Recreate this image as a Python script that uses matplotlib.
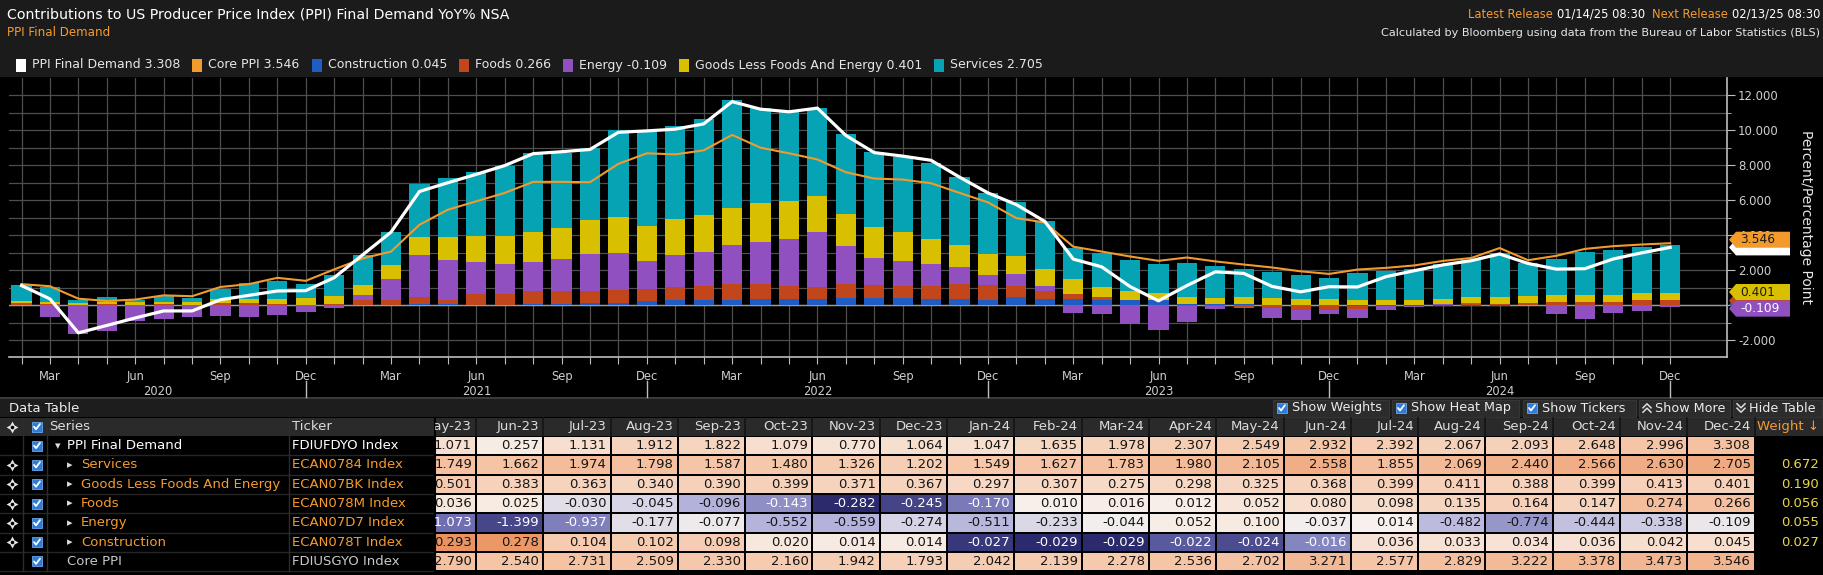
import numpy as np
import matplotlib
matplotlib.use('Agg')
import matplotlib.pyplot as plt
from matplotlib.patches import Rectangle, Polygon
from matplotlib.colors import LinearSegmentedColormap
from matplotlib import transforms
from matplotlib.ticker import FuncFormatter, FixedLocator

plt.rcParams['font.family'] = ['DejaVu Sans']

# ---------------- data ----------------
month_names = ['Jan', 'Feb', 'Mar', 'Apr', 'May', 'Jun', 'Jul', 'Aug', 'Sep', 'Oct', 'Nov', 'Dec']
periods = [(y, m) for y in range(2020, 2025) for m in range(1, 13) if not (y == 2020 and m == 1)]

ppi = [1.13, 0.37, -1.57, -1.15, -0.72, -0.32, -0.32, 0.32, 0.57, 0.82, 0.84,
       1.58, 2.88, 4.18, 6.50, 7.00, 7.48, 7.98, 8.66, 8.77, 8.90, 9.88, 9.96,
       10.06, 10.36, 11.63, 11.20, 11.05, 11.26, 9.70, 8.72, 8.52, 8.28, 7.32, 6.42,
       5.75, 4.79, 2.64, 2.20, 1.071, 0.257, 1.131, 1.912, 1.822, 1.079, 0.770, 1.064,
       1.047, 1.635, 1.978, 2.307, 2.549, 2.932, 2.392, 2.067, 2.093, 2.648, 2.996, 3.308]

core = [1.21, 1.09, 0.38, 0.25, 0.33, 0.57, 0.52, 1.05, 1.21, 1.57, 1.40,
        2.05, 2.68, 3.07, 4.60, 5.46, 5.94, 6.42, 7.05, 7.05, 7.03, 8.08, 8.68,
        8.62, 8.85, 9.73, 9.00, 8.68, 8.33, 7.60, 7.24, 7.18, 6.97, 6.42, 5.88,
        4.98, 4.73, 3.35, 3.07, 2.790, 2.540, 2.731, 2.509, 2.330, 2.160, 1.942, 1.793,
        2.042, 2.139, 2.278, 2.536, 2.702, 3.271, 2.577, 2.829, 3.222, 3.378, 3.473, 3.546]

construction = [0.02, 0.02, 0.02, 0.02, 0.02, 0.02, 0.02, 0.02, 0.02, 0.02, 0.02,
                0.03, 0.02, 0.02, 0.05, 0.05, 0.04, 0.04, 0.05, 0.05, 0.15, 0.15, 0.23,
                0.29, 0.29, 0.29, 0.34, 0.34, 0.34, 0.42, 0.42, 0.42, 0.38, 0.38, 0.33,
                0.48, 0.38, 0.38, 0.29, 0.293, 0.278, 0.104, 0.102, 0.098, 0.020, 0.014, 0.014,
                -0.027, -0.029, -0.029, -0.022, -0.024, -0.016, 0.036, 0.033, 0.034, 0.036, 0.042, 0.045]

foods = [0.09, 0.03, 0.02, 0.05, 0.02, 0.03, 0.02, 0.12, 0.10, 0.06, 0.02,
         0.03, 0.27, 0.27, 0.40, 0.23, 0.59, 0.59, 0.75, 0.75, 0.65, 0.71, 0.69,
         0.77, 0.80, 0.90, 0.90, 0.75, 0.71, 0.82, 0.73, 0.69, 0.73, 0.82, 0.82,
         0.61, 0.42, 0.29, 0.17, 0.036, 0.025, -0.030, -0.045, -0.096, -0.143, -0.282, -0.245,
         -0.170, 0.010, 0.016, 0.012, 0.052, 0.080, 0.098, 0.135, 0.164, 0.147, 0.274, 0.266]

energy = [0.0, -0.67, -1.63, -1.49, -0.90, -0.77, -0.67, -0.61, -0.67, -0.57, -0.38,
          -0.15, 0.29, 1.19, 2.41, 2.30, 1.86, 1.72, 1.69, 1.84, 2.13, 2.13, 1.61,
          1.82, 1.93, 2.26, 2.38, 2.70, 3.14, 2.15, 1.55, 1.44, 1.25, 0.98, 0.57,
          0.69, 0.31, -0.46, -0.52, -1.073, -1.399, -0.937, -0.177, -0.077, -0.552, -0.559, -0.274,
          -0.511, -0.233, -0.044, 0.052, 0.100, -0.037, 0.014, -0.482, -0.774, -0.444, -0.338, -0.109]

goods = [0.13, 0.12, 0.12, 0.12, 0.13, 0.12, 0.15, 0.22, 0.25, 0.30, 0.40,
         0.50, 0.57, 0.82, 1.02, 1.30, 1.48, 1.61, 1.70, 1.76, 1.95, 2.07, 2.01,
         2.07, 2.15, 2.11, 2.24, 2.15, 2.03, 1.84, 1.78, 1.61, 1.44, 1.26, 1.21,
         1.03, 0.98, 0.82, 0.59, 0.501, 0.383, 0.363, 0.340, 0.390, 0.399, 0.371, 0.367,
         0.297, 0.307, 0.275, 0.298, 0.325, 0.368, 0.399, 0.411, 0.388, 0.399, 0.413, 0.401]

services = [0.92, 0.86, 0.13, 0.29, 0.15, 0.34, 0.22, 0.56, 0.88, 1.00, 0.78,
            1.16, 1.72, 1.90, 3.07, 3.39, 3.66, 3.98, 4.52, 4.31, 4.08, 4.94, 5.36,
            5.27, 5.46, 6.17, 5.38, 5.17, 5.04, 4.54, 4.27, 4.31, 4.35, 3.91, 3.49,
            3.07, 2.74, 1.80, 1.92, 1.749, 1.662, 1.974, 1.798, 1.587, 1.480, 1.326, 1.202,
            1.549, 1.627, 1.783, 1.980, 2.105, 2.558, 1.855, 2.069, 2.440, 2.566, 2.630, 2.705]

weights = {'Services': 0.672, 'Goods Less Foods And Energy': 0.190, 'Foods': 0.056,
           'Energy': 0.055, 'Construction': 0.027}
tickers = {'PPI Final Demand': 'FDIUFDYO Index', 'Services': 'ECAN0784 Index',
           'Goods Less Foods And Energy': 'ECAN07BK Index', 'Foods': 'ECAN078M Index',
           'Energy': 'ECAN07D7 Index', 'Construction': 'ECAN078T Index', 'Core PPI': 'FDIUSGYO Index'}
n_table_cols = 20

# ---------------- style ----------------
C_PPI, C_CORE = '#ffffff', '#f39a2c'
C_CONS, C_FOOD, C_ENER, C_GOOD, C_SERV = '#1f5cc4', '#c2461c', '#9150c0', '#d8c000', '#06a3b4'
ORANGE_TXT = '#f59b2f'
GRID = '#4e4e4e'
TICKC = '#cfcfcf'

W, H = 1824, 575
fig = plt.figure(figsize=(W / 100, H / 100), dpi=100)
fig.patch.set_facecolor('#000000')


def ov_axes(z):
    a = fig.add_axes([0, 0, 1, 1], zorder=z)
    a.set_xlim(0, W)
    a.set_ylim(H, 0)
    a.set_axis_off()
    a.patch.set_visible(False)
    return a


ov = ov_axes(0)
PL, PT, PR, PB = 9, 78, 1727, 357
ax = fig.add_axes([PL / W, 1 - PB / H, (PR - PL) / W, (PB - PT) / H], zorder=1)
ov2 = ov_axes(5)
renderer = fig.canvas.get_renderer()


def wpx(t):
    return t.get_window_extent(renderer=renderer).width


# ---------------- header ----------------
ov.add_patch(Rectangle((0, 0), W, 77, facecolor='#1b1b1b', edgecolor='none'))
ov.text(7, 14, 'Contributions to US Producer Price Index (PPI) Final Demand YoY% NSA',
        color='#ffffff', fontsize=10.2, va='center', ha='left')
ov.text(7, 33, 'PPI Final Demand', color=ORANGE_TXT, fontsize=8.6, va='center', ha='left')
xr = 1820
for txt, col in [('02/13/25 08:30', '#ffffff'), ('Next Release ', ORANGE_TXT),
                 ('01/14/25 08:30  ', '#ffffff'), ('Latest Release ', ORANGE_TXT)]:
    t = ov.text(xr, 14, txt, color=col, fontsize=8.3, va='center', ha='right')
    xr -= wpx(t)
ov.text(1820, 33, 'Calculated by Bloomberg using data from the Bureau of Labor Statistics (BLS)',
        color='#e6e6e6', fontsize=8.1, va='center', ha='right')

legend_items = [('PPI Final Demand', C_PPI, ppi[-1]), ('Core PPI', C_CORE, core[-1]),
                ('Construction', C_CONS, construction[-1]), ('Foods', C_FOOD, foods[-1]),
                ('Energy', C_ENER, energy[-1]), ('Goods Less Foods And Energy', C_GOOD, goods[-1]),
                ('Services', C_SERV, services[-1])]
lx, ly = 16, 65
for name, col, val in legend_items:
    ov.add_patch(Rectangle((lx, ly - 6.5), 10, 13, facecolor=col, edgecolor='none'))
    t = ov.text(lx + 16, ly, f'{name} {val:.3f}', color='#e6e6e6', fontsize=9.0, va='center', ha='left')
    lx = lx + 16 + wpx(t) + 12

# ---------------- chart ----------------
n = len(periods)
xs = np.arange(n)
ax.set_facecolor('#000000')
pos = np.zeros(n)
neg = np.zeros(n)
for vals, col in [(construction, C_CONS), (foods, C_FOOD), (energy, C_ENER),
                  (goods, C_GOOD), (services, C_SERV)]:
    v = np.asarray(vals, float)
    base = np.where(v >= 0, pos, neg)
    ax.bar(xs, v, width=0.71, bottom=base, color=col, linewidth=0, zorder=3)
    pos = pos + np.clip(v, 0, None)
    neg = neg + np.clip(v, None, 0)
ax.axhline(0, color='#9a9a9a', lw=1.0, zorder=2)
ax.plot(xs, core, color=C_CORE, lw=1.5, zorder=5, solid_joinstyle='round')
ax.plot(xs, ppi, color=C_PPI, lw=2.3, zorder=6, solid_joinstyle='round')

ax.set_xlim(-0.44, 60.0)
ax.set_ylim(-2.95, 12.98)
ax.xaxis.set_major_locator(FixedLocator(xs))
ax.set_xticklabels([month_names[m - 1] if m in (3, 6, 9, 12) else '' for (y, m) in periods])
ax.yaxis.tick_right()
ax.set_yticks(np.arange(-2, 13, 2))
ax.set_yticks(np.arange(-1, 13, 2), minor=True)
# the 0.000 label sits behind the value tags in the original, so it is left blank
ax.yaxis.set_major_formatter(FuncFormatter(lambda v, p: '' if abs(v) < 1e-9 else f'{v:.3f}'))
ax.grid(True, which='both', axis='y', color=GRID, lw=0.9)
ax.grid(True, which='major', axis='x', color=GRID, lw=0.9)
ax.set_axisbelow(True)
for s in ('left', 'top'):
    ax.spines[s].set_visible(False)
for s in ('right', 'bottom'):
    ax.spines[s].set_color('#bdbdbd')
    ax.spines[s].set_linewidth(1.2)
ax.tick_params(axis='x', which='major', length=5, color='#bdbdbd', labelcolor=TICKC,
               labelsize=8.3, pad=4.5, direction='out')
ax.tick_params(axis='y', which='major', length=6, color='#bdbdbd', labelcolor=TICKC,
               labelsize=8.4, pad=2, direction='out')
ax.tick_params(axis='y', which='minor', length=3, color='#bdbdbd', direction='out')

bt = transforms.blended_transform_factory(ax.transData, ax.transAxes)
dec_idx = [i for i, (y, m) in enumerate(periods) if m == 12]
edges = [ax.get_xlim()[0]] + dec_idx
for k, d in enumerate(dec_idx):
    ax.plot([d, d], [-0.086, -0.143], transform=bt, color='#bdbdbd', lw=1, clip_on=False)
    ax.text((edges[k] + d) / 2, -0.122, str(periods[d][0]), transform=bt, ha='center',
            va='center', color=TICKC, fontsize=8.3)

ov2.text(1806, 217, 'Percent/Percentage Point', rotation=270, ha='center', va='center',
         color='#e6e6e6', fontsize=10)


def ypx(v):
    return H - ax.transData.transform((0, v))[1]


# value tags (drawn bottom to top); the covered ones carry no legible text in the original
tags = [(construction[-1], C_CONS, None, 0), (foods[-1], C_FOOD, None, 0),
        (ppi[-1], C_PPI, None, 0), (goods[-1], C_GOOD, '#1a1a1a', -6.3),
        (energy[-1], C_ENER, '#ffffff', 1.4), (core[-1], C_CORE, '#1a1a1a', -3.5)]
x0, x1, hh, tip = 1729, 1790, 8, 7
for val, fc, tc, nud in tags:
    yc = ypx(val) + nud
    ov2.add_patch(Polygon([(x0, yc), (x0 + tip, yc - hh), (x1, yc - hh), (x1, yc + hh),
                           (x0 + tip, yc + hh)], closed=True, facecolor=fc, edgecolor='none'))
    if tc is not None:
        ov2.text(x0 + 11, yc, f'{val:.3f}', color=tc, fontsize=8.8, va='center', ha='left')

# ---------------- data table ----------------
ov.add_patch(Rectangle((0, 396.8), W, 1.8, facecolor='#3a3a3a', edgecolor='none'))
ov.add_patch(Rectangle((0, 398.6), W, 18.6, facecolor='#1d1d1d', edgecolor='none'))
ov.text(9, 408, 'Data Table', color='#ececec', fontsize=9.5, va='center')
HDR_T, HDR_B = 417.5, 436
ov.add_patch(Rectangle((0, HDR_T), W, HDR_B - HDR_T, facecolor='#2a2a2a', edgecolor='none'))


def checkbox(cx, cy, s=10):
    ov.add_patch(Rectangle((cx - s / 2, cy - s / 2), s, s, facecolor='#2f7bd8', edgecolor='#6aa8ee', lw=0.6))
    ov.plot([cx - 3, cx - 1, cx + 3], [cy, cy + 2.5, cy - 2.8], color='white', lw=1.3,
            solid_capstyle='round')


def crosshair(cx, cy):
    ov.plot([cx], [cy], marker=(4, 1, 0), markersize=8.5, color='#e8e8e8', markeredgewidth=0)
    ov.plot([cx], [cy], marker='o', markersize=2.6, color='#000000', markeredgewidth=0)


# buttons in Data Table band
btns = [(1273, 1389, 'Show Weights', 'check'), (1392, 1519, 'Show Heat Map', 'check'),
        (1523, 1636, 'Show Tickers', 'check'), (1639, 1730, 'Show More', 'up'),
        (1733, 1822, 'Hide Table', 'down')]
by = 408
for bl, br, label, kind in btns:
    ov.add_patch(Rectangle((bl, 399.5), br - bl, 17, facecolor='#2c2c2c', edgecolor='#3a3a3a', lw=0.6))
    if kind == 'check':
        checkbox(bl + 9, by, 10)
        ov.text(bl + 19, by, label, color='#ececec', fontsize=9.2, va='center', ha='left')
    else:
        cx = bl + 8
        for dy in (-2.2, 2.2):
            if kind == 'up':
                ov.plot([cx - 4, cx, cx + 4], [by + dy + 2, by + dy - 2, by + dy + 2], color='#dcdcdc', lw=1.1)
            else:
                ov.plot([cx - 4, cx, cx + 4], [by + dy - 2, by + dy + 2, by + dy - 2], color='#dcdcdc', lw=1.1)
        ov.text(bl + 16, by, label, color='#ececec', fontsize=9.2, va='center', ha='left')

col0, col_w, data_left = 408.7, 67.3, 435
weight_left = col0 + n_table_cols * col_w
row_h = 19.3
row_t0 = 436
hc = (HDR_T + HDR_B) / 2
crosshair(12, hc)
checkbox(37, hc)
ov.text(49, hc, 'Series', color='#dcdcdc', fontsize=9.5, va='center')
ov.text(292, hc, 'Ticker', color='#dcdcdc', fontsize=9.5, va='center')
clip_rect = Rectangle((data_left, 0), W, H, transform=ov.transData)
tab_periods = periods[-n_table_cols:]
for j, (y, m) in enumerate(tab_periods):
    l = col0 + j * col_w
    t = ov.text(l + col_w - 4, hc, f'{month_names[m - 1]}-{str(y)[2:]}', color='#dcdcdc',
                fontsize=9.5, va='center', ha='right', clip_on=True)
    t.set_clip_path(clip_rect)
    if l + col_w < weight_left + 1:
        ov.plot([l + col_w, l + col_w], [HDR_T, HDR_B], color='#141414', lw=1.2)
ov.text(1819, hc, 'Weight \u2193', color=ORANGE_TXT, fontsize=9.5, va='center', ha='right')

rows = [('PPI Final Demand', ppi, 'parent', '#ffffff', '#ffffff'),
        ('Services', services, 'child', ORANGE_TXT, ORANGE_TXT),
        ('Goods Less Foods And Energy', goods, 'child', ORANGE_TXT, ORANGE_TXT),
        ('Foods', foods, 'child', ORANGE_TXT, ORANGE_TXT),
        ('Energy', energy, 'child', ORANGE_TXT, ORANGE_TXT),
        ('Construction', construction, 'child', ORANGE_TXT, ORANGE_TXT),
        ('Core PPI', core, 'plain', '#c8c8c8', '#c8c8c8')]

pos_cmap = LinearSegmentedColormap.from_list('pos', ['#f7f2ee', '#f6c6a8', '#eb9462', '#d2602c'])
neg_cmap = LinearSegmentedColormap.from_list('neg', ['#f7f2ee', '#b4b4dc', '#6c6cb0', '#2a2a6c'])

for r, (label, vals, kind, lc, tcol) in enumerate(rows):
    top = row_t0 + r * row_h
    cy = top + row_h / 2
    ov.plot([0, data_left], [top + row_h, top + row_h], color='#262626', lw=1)
    if kind == 'child':
        crosshair(12, cy)
    checkbox(37, cy)
    if kind == 'parent':
        ov.text(55, cy, '\u25BE', color='#dcdcdc', fontsize=8, va='center')
        ov.text(67, cy, label, color=lc, fontsize=9.5, va='center')
    elif kind == 'child':
        ov.text(67, cy, '\u25B8', color='#dcdcdc', fontsize=8, va='center')
        ov.text(81, cy, label, color=lc, fontsize=9.5, va='center')
    else:
        ov.text(67, cy, label, color=lc, fontsize=9.5, va='center')
    ov.text(292, cy, tickers[label], color=tcol, fontsize=9.5, va='center')
    arr = np.asarray(vals, float)
    hi, lo = arr.max(), arr.min()
    for j, v in enumerate(arr[-n_table_cols:]):
        l = col0 + j * col_w
        rgt = l + col_w
        if v >= 0:
            tt = (v / hi) ** 0.8 if hi > 0 else 0.0
            fc = pos_cmap(tt)
            txtc = '#151515'
        else:
            tt = v / lo
            fc = neg_cmap(tt)
            txtc = '#ffffff' if tt >= 0.5 else '#151515'
        cl = max(l + 1, data_left + 1)
        ov.add_patch(Rectangle((cl, top + 1), rgt - 1 - cl, row_h - 2, facecolor=fc, edgecolor='none'))
        t = ov.text(rgt - 4, cy, f'{v:.3f}', color=txtc, fontsize=9.5, va='center', ha='right',
                    clip_on=True)
        t.set_clip_path(clip_rect)
    if label in weights:
        ov.text(1819, cy, f'{weights[label]:.3f}', color='#e8d64c', fontsize=9.5, va='center', ha='right')

for xv in (23, 47, 289):
    ov.plot([xv, xv], [HDR_T, row_t0 + len(rows) * row_h], color='#2c2c2c', lw=1)
ov.plot([data_left, data_left], [HDR_T, row_t0 + len(rows) * row_h], color='#000000', lw=1.5)

fig.savefig('out.png', dpi=100, facecolor=fig.get_facecolor())
